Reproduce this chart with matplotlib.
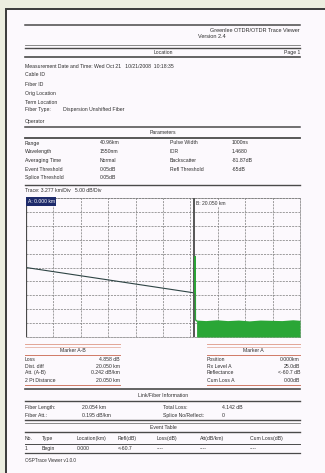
import matplotlib
matplotlib.use("Agg")
import matplotlib.pyplot as plt
import numpy as np

# ---------------------------------------------------------------- data
RANGE_KM = 32.768
TRACE_KM = [0.0, 20.05]
TRACE_DB = [25.0, 15.9]
SPIKE_KM = [20.22, 20.24, 20.26, 20.4]
SPIKE_DB = [15.9, 29.0, 6.2, 5.8]
NOISE_KM = [20.4, 21.5, 22.8, 24.1, 25.4, 26.7, 28.0, 29.3, 30.6, 31.9, 32.768]
NOISE_DB = [6.1, 5.9, 6.2, 5.9, 6.1, 5.8, 6.1, 6.0, 5.9, 6.2, 6.0]
CURSOR_A_KM = 0.0
CURSOR_B_KM = 20.05
DB_MAX = 50.0

HEADER_LINES = ["Greenlee OTDR/OTDR Trace Viewer", "Version 2.4"]
INFO_LINES = [
    "Measurement Date and Time: Wed Oct 21   10/21/2008  10:18:35",
    "Cable ID",
    "Fiber ID",
    "Orig Location",
    "Term Location",
    "Fiber Type:         Dispersion Unshifted Fiber",
    "Operator",
]
PARAM_ROWS = [
    ("Range", "40.96km", "Pulse Width", "1000ns"),
    ("Wavelength", "1550nm", "IOR", "1.4680"),
    ("Averaging Time", "Normal", "Backscatter", "-81.87dB"),
    ("Event Threshold", "0.05dB", "Refl Threshold", "-65dB"),
    ("Splice Threshold", "0.05dB", "", ""),
]
MARKER_AB = [("Loss", "4.858 dB"), ("Dist. diff", "20.050 km"),
             ("Att. (A-B)", "0.242 dB/km"), ("2 Pt Distance", "20.050 km")]
MARKER_A = [("Position", "0.000km"), ("Rx Level A", "25.0dB"),
            ("Reflectance", "<-60.7 dB"), ("Cum Loss A", "0.00dB")]
LINK_ROWS = [("Fiber Length:", "20.054 km", "Total Loss:", "4.142 dB"),
             ("Fiber Att.:", "0.195 dB/km", "Splice No/Reflect:", "0")]
EVENT_COLS = ["No.", "Type", "Location(km)", "Refl(dB)", "Loss(dB)", "Att(dB/km)", "Cum Loss(dB)"]
EVENT_ROW = ["1", "Begin", "0.000", "<-60.7", "----", "----", "----"]
FOOTER = "OSPTrace Viewer v1.0.0"

# ---------------------------------------------------------------- layout (pixels)
W, H = 325, 473
TXT = "#2e2e2e"
RULE = "#4a4a4a"
SALMON = "#e2a595"
FONT = "Liberation Sans"
FS = 3.7


def fx(x):
    return x / W


def fy(y):
    return 1 - y / H


def text(x, y, s, ha="left", size=FS, color=TXT, **kw):
    fig.text(fx(x), fy(y), s, ha=ha, va="center", fontsize=size, color=color,
             family=FONT, **kw)


def rule(y, x0=25, x1=300, color=RULE, lw=0.8):
    fig.add_artist(plt.Line2D([fx(x0), fx(x1)], [fy(y), fy(y)], color=color, lw=lw))


fig = plt.figure(figsize=(W / 100, H / 100), dpi=100, facecolor="#eceee0")

# the page, kept behind the plot axes
page = plt.Rectangle((fx(6), fy(480)), fx(330) - fx(6), fy(9) - fy(480),
                     transform=fig.transFigure, facecolor="#fcf9fd",
                     edgecolor="#3a3a3a", lw=1.4, zorder=-5)
fig.add_artist(page)

# header
rule(25, lw=1.1)
text(300, 31, HEADER_LINES[0], ha="right", size=4.0)
text(198, 37, HEADER_LINES[1], size=4.0)
rule(45, lw=0.6, color="#777777")
rule(48, lw=1.0)
text(163, 52.5, "Location", ha="center")
text(300, 52.5, "Page 1", ha="right")
rule(57, lw=1.2)

for i, line in enumerate(INFO_LINES):
    y = [66, 75, 85, 93, 103, 110, 121][i]
    text(25, y, line)

rule(127, lw=1.1)
text(163, 132.5, "Parameters", ha="center")
rule(138, lw=1.3)
for i, (l1, v1, l2, v2) in enumerate(PARAM_ROWS):
    y = 143 + i * 8.7
    text(25, y, l1)
    text(100, y, v1)
    text(170, y, l2)
    text(232, y, v2)
rule(185, lw=1.0)
text(25, 190.5, "Trace: 3.277 km/Div   5.00 dB/Div")

# ---------------------------------------------------------------- trace plot
ax = fig.add_axes([fx(26), fy(337), fx(300) - fx(26), fy(198) - fy(337)])
ax.set_facecolor("#fcf9fd")
ax.set_xlim(0, RANGE_KM)
ax.set_ylim(0, DB_MAX)
ax.set_xticks(np.linspace(0, RANGE_KM, 11))
ax.set_yticks(np.linspace(0, DB_MAX, 11))
ax.tick_params(length=0, labelbottom=False, labelleft=False)
ax.grid(True, color="#7a7a7a", lw=0.5, ls=(0, (3, 1.5)))
for side in ("top", "right", "bottom"):
    ax.spines[side].set_color("#7a7a7a")
    ax.spines[side].set_linewidth(0.5)
    ax.spines[side].set_linestyle((0, (3, 1.5)))
ax.spines["left"].set_visible(False)

ax.fill_between(NOISE_KM, 0, NOISE_DB, color="#2aa636", lw=0, zorder=3)
ax.plot(TRACE_KM, TRACE_DB, color="#2e4444", lw=0.8, zorder=4)
ax.axvline(CURSOR_A_KM, color="#4a4a4a", lw=1.6, zorder=5)
ax.axvline(CURSOR_B_KM, color="#555555", lw=1.4, zorder=5)
ax.plot(SPIKE_KM, SPIKE_DB, color="#2aa636", lw=1.0, zorder=6)
ax.text(0.2, DB_MAX - 1.2, f"A: {CURSOR_A_KM:.3f} km", fontsize=3.6, family=FONT,
        color="white", va="center", ha="left", zorder=6,
        bbox=dict(boxstyle="square,pad=0.35", fc="#1d2a6b", ec="none"))
ax.text(CURSOR_B_KM + 0.3, DB_MAX - 1.8, f"B: {CURSOR_B_KM:.3f} km", fontsize=3.6,
        family=FONT, color="#333333", va="center", ha="left", zorder=6,
        bbox=dict(boxstyle="square,pad=0.2", fc="#fcf9fd", ec="none"))

# ---------------------------------------------------------------- marker tables
for (x0, x1, title, rows) in [(25, 120, "Marker A-B", MARKER_AB),
                              (207, 300, "Marker A", MARKER_A)]:
    rule(344, x0, x1, SALMON, 0.7)
    rule(347, x0, x1, SALMON, 0.5)
    text((x0 + x1) / 2, 351, title, ha="center")
    rule(355, x0, x1, "#d07a66", 0.7)
    for i, (lab, val) in enumerate(rows):
        y = [359.5, 366, 372, 380][i]
        text(x0, y, lab)
        text(x1, y, val, ha="right")
    rule(385, x0, x1, "#d07a66", 0.7)

rule(388.5, lw=1.2)
text(163, 395, "Link/Fiber Information", ha="center")
rule(400.5, lw=1.0)
for i, (l1, v1, l2, v2) in enumerate(LINK_ROWS):
    y = 407 + i * 8
    text(25, y, l1)
    text(82, y, v1)
    text(163, y, l2)
    text(222, y, v2)
rule(420, lw=1.0)
rule(423, lw=0.6, color="#777777")
text(163, 427.5, "Event Table", ha="center")
rule(432, lw=1.0)
col_x = [25, 42, 77, 118, 157, 200, 250]
for x, s in zip(col_x, EVENT_COLS):
    text(x, 438, s)
rule(443.5, lw=0.7)
for x, s in zip(col_x, EVENT_ROW):
    text(x, 448.5, s)
rule(453, lw=0.9)
text(25, 460, FOOTER, size=3.3)

fig.savefig("out.png", dpi=100, facecolor=fig.get_facecolor())
